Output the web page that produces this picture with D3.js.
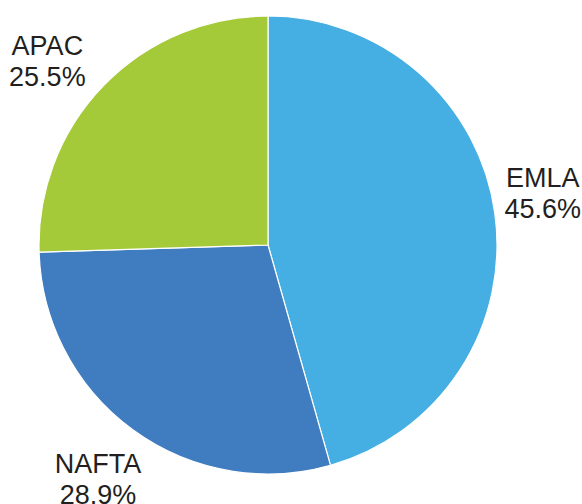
<!DOCTYPE html>
<html>
<head>
<meta charset="utf-8">
<script src="https://cdn.jsdelivr.net/npm/d3@7"></script>
<style>
  html, body { margin: 0; padding: 0; background: #fff; }
  svg { display: block; }
</style>
</head>
<body>
<svg id="chart" width="582" height="504"></svg>
<script>
// Regional share of revenue
const regions = ["EMLA", "NAFTA", "APAC"];
const shares = [45.6, 28.9, 25.5];
const colors = ["#45aee2", "#3f7cc0", "#a4ca3a"];

const width = 582, height = 504;
const cx = 268, cy = 245, radius = 229;

const svg = d3.select("#chart");
const g = svg.append("g").attr("transform", `translate(${cx},${cy})`);

const data = regions.map((r, i) => ({ region: r, value: shares[i], color: colors[i] }));

const pie = d3.pie().value(d => d.value).sort(null);
const arc = d3.arc().innerRadius(0).outerRadius(radius);
const arcs = pie(data);

g.selectAll("path.slice")
  .data(arcs)
  .join("path")
  .attr("class", "slice")
  .attr("d", arc)
  .attr("fill", d => d.data.color)
  .attr("stroke", "#ffffff")
  .attr("stroke-width", 1.2)
  .attr("stroke-linejoin", "round");

// Outside labels: start on a ray through the slice midpoint, then nudge
const labelArc = d3.arc().innerRadius(radius * 1.22).outerRadius(radius * 1.22);
const labelNudge = { EMLA: [-2, -20], NAFTA: [-5, 2], APAC: [-20, 4] };

const labels = g.selectAll("text.label")
  .data(arcs)
  .join("text")
  .attr("class", "label")
  .attr("text-anchor", "middle")
  .attr("font-family", "Liberation Sans, Arial, sans-serif")
  .attr("font-size", 27)
  .attr("fill", "#231f20")
  .attr("transform", d => {
    const [x, y] = labelArc.centroid(d);
    const [nx, ny] = labelNudge[d.data.region];
    return `translate(${x + nx},${y + ny})`;
  });

labels.append("tspan")
  .attr("x", 0)
  .attr("dy", 0)
  .text(d => d.data.region);
labels.append("tspan")
  .attr("x", 0)
  .attr("dy", 31)
  .text(d => d3.format(".1f")(d.data.value) + "%");
</script>
</body>
</html>
